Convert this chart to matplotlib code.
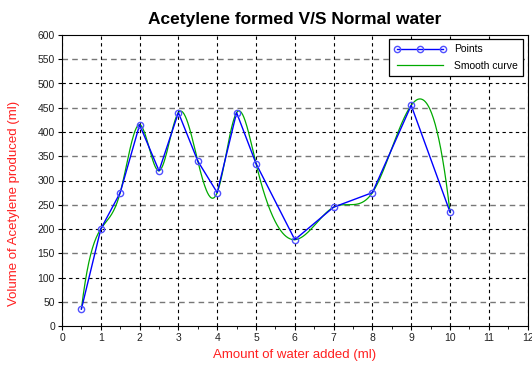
import numpy as np
import matplotlib
matplotlib.use("Agg")
import matplotlib.pyplot as plt
from matplotlib.ticker import MultipleLocator

plt.rcParams["font.family"] = ["Liberation Sans", "DejaVu Sans"]

water_ml = [0.5, 1, 1.5, 2, 2.5, 3, 3.5, 4, 4.5, 5, 6, 7, 8, 9, 10]
acetylene_ml = [35, 200, 275, 415, 320, 440, 340, 275, 440, 335, 178, 245, 275, 455, 235]
x_ticks = list(range(0, 13))
y_ticks = list(range(0, 601, 50))


def not_a_knot_spline(x, y, xs):
    x = np.asarray(x, float); y = np.asarray(y, float)
    n = len(x)
    h = np.diff(x)
    A = np.zeros((n, n)); b = np.zeros(n)
    A[0, 0] = h[1]; A[0, 1] = -(h[0] + h[1]); A[0, 2] = h[0]
    A[-1, -3] = h[-1]; A[-1, -2] = -(h[-2] + h[-1]); A[-1, -1] = h[-2]
    for i in range(1, n - 1):
        A[i, i - 1] = h[i - 1]
        A[i, i] = 2 * (h[i - 1] + h[i])
        A[i, i + 1] = h[i]
        b[i] = 6 * ((y[i + 1] - y[i]) / h[i] - (y[i] - y[i - 1]) / h[i - 1])
    M = np.linalg.solve(A, b)
    idx = np.clip(np.searchsorted(x, xs) - 1, 0, n - 2)
    xi, xi1 = x[idx], x[idx + 1]
    hi = h[idx]
    t1 = xi1 - xs; t2 = xs - xi
    return (M[idx] * t1**3 / (6 * hi) + M[idx + 1] * t2**3 / (6 * hi)
            + (y[idx] / hi - M[idx] * hi / 6) * t1
            + (y[idx + 1] / hi - M[idx + 1] * hi / 6) * t2)


fig = plt.figure(figsize=(5.32, 3.67), dpi=100)
ax = fig.add_axes([62 / 532, 1 - 326 / 367, (527.6 - 62) / 532, (326 - 35) / 367])

xs = np.linspace(water_ml[0], water_ml[-1], 600)
ys = not_a_knot_spline(water_ml, acetylene_ml, xs)

ax.plot(water_ml, acetylene_ml, color="#0000ff", lw=1.0, marker="o", ms=4.5,
        mfc="none", mec="#5050ff", mew=1.0, label="Points", zorder=3)
ax.plot(xs, ys, color="#00aa00", lw=0.9, label="Smooth curve", zorder=2)

ax.set_xlim(0, 12)
ax.set_ylim(0, 600)
ax.set_xticks(x_ticks)
ax.set_yticks(y_ticks)
ax.xaxis.set_minor_locator(MultipleLocator(0.5))
ax.tick_params(axis="both", labelsize=7.5, length=3, width=0.8, direction="out",
               pad=2, labelcolor="#222222")
ax.tick_params(which="minor", length=2)
ax.grid(True, axis="x", which="major", color="black", linestyle=(0, (3, 3)), lw=0.8)
for yv in y_ticks[1:-1]:
    if yv % 100 == 0:
        ax.axhline(yv, color="black", linestyle=(0, (3, 3)), lw=0.8, zorder=0.5)
    else:
        ax.axhline(yv, color="#777777", linestyle=(0, (4, 3)), lw=1.0, zorder=0.5)
for s in ax.spines.values():
    s.set_linewidth(0.8)

ax.set_title("Acetylene formed V/S Normal water", fontsize=12.5, fontweight="bold", pad=8)
ax.set_xlabel("Amount of water added (ml)", color="#ff2020", fontsize=9.5)
ax.xaxis.set_label_coords(0.5, -0.08)
ax.set_ylabel("Volume of Acetylene produced (ml)", color="#ff2020", fontsize=9.5)
ax.yaxis.set_label_coords(-0.09, 0.42)

leg = ax.legend(loc="upper right", fontsize=7.5, frameon=True, fancybox=False,
                edgecolor="black", framealpha=1, borderaxespad=0.4,
                handlelength=5, numpoints=3, labelspacing=0.6, borderpad=0.5)
leg.get_frame().set_linewidth(0.9)

fig.savefig("out.png", dpi=100)
